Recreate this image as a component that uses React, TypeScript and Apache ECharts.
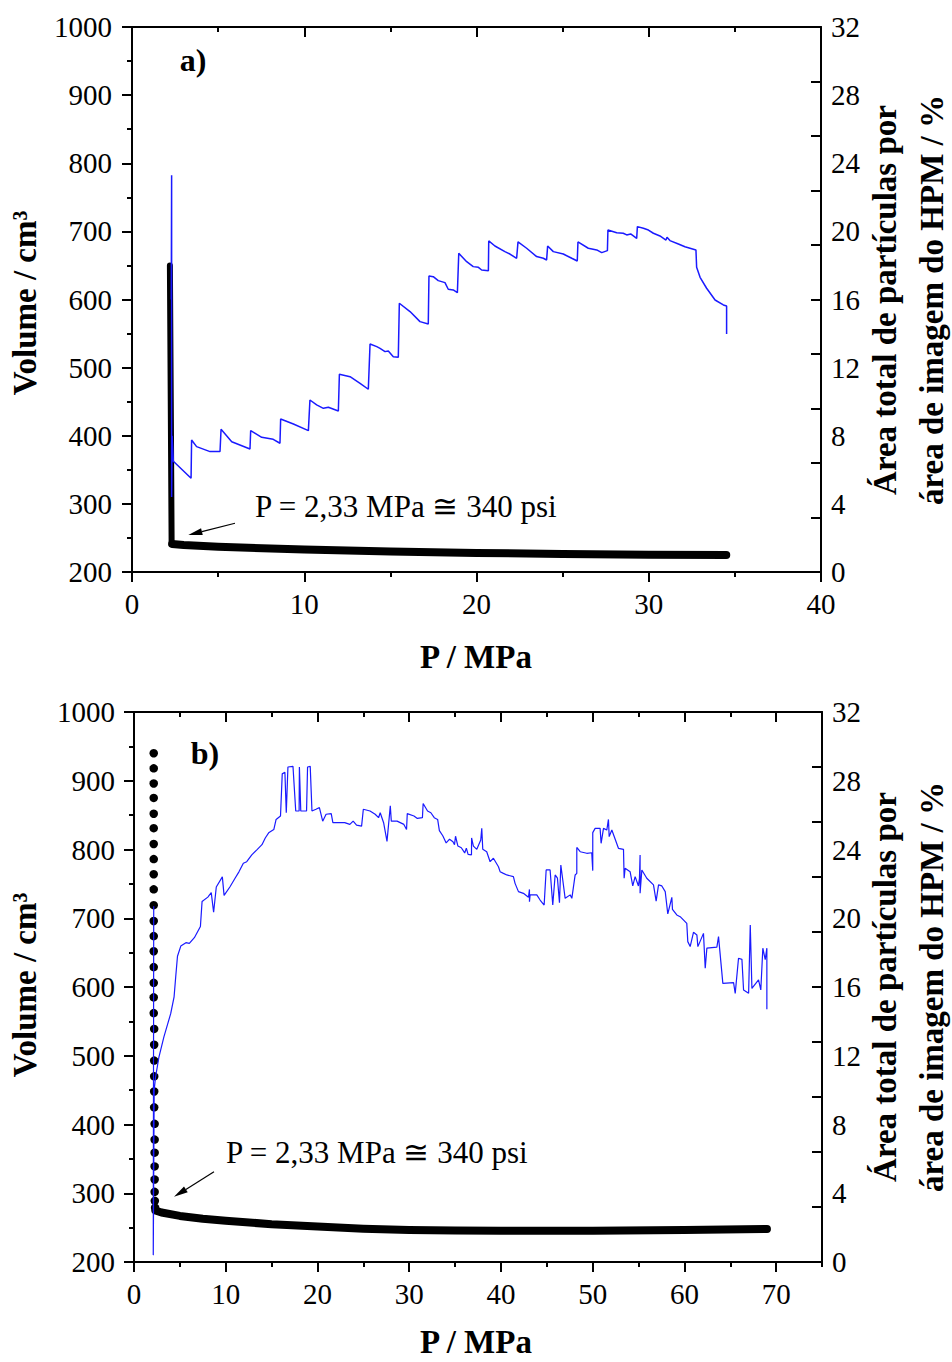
import React, { useEffect, useRef } from "react";
import * as echarts from "echarts";

const FONT = "'Liberation Serif', 'DejaVu Serif', serif";

// ---- axis tick values ----
const xMajorA = [0, 10, 20, 30, 40];
const xMinorA = [5, 15, 25, 35];
const xMajorB = [0, 10, 20, 30, 40, 50, 60, 70];
const xMinorB = [5, 15, 25, 35, 45, 55, 65, 75];
const rightTickVals = [0, 3.2, 6.4, 9.6, 12.8, 16, 19.2, 22.4, 25.6, 28.8, 32];

// ---- chart a) data: [P (MPa), Volume (cm3)] ----
const volA_vertical = [
  [2.2, 650], [2.25, 450], [2.3, 241],
];
const volA_horizontal = [
  [2.33, 241], [3, 239.5], [5, 237], [10, 233], [15, 230], [20, 228],
  [25, 226.5], [30, 225.5], [34.5, 225],
];
// [P (MPa), area (%)]
const areaA = [
  [2.28, 16.0], [2.3, 23.3], [2.3, 4.4], [2.33, 8.0], [2.40, 6.5], [3.43, 5.5],
  [3.46, 7.75], [3.75, 7.36], [4.53, 7.07], [5.11, 7.07], [5.17, 8.38], [5.79, 7.65],
  [6.85, 7.22], [6.89, 8.30], [7.53, 7.91], [8.20, 7.79], [8.59, 7.56], [8.63, 8.98],
  [9.37, 8.69], [10.24, 8.30], [10.33, 10.10], [10.72, 9.81], [11.11, 9.61], [11.40, 9.67],
  [11.98, 9.45], [12.04, 11.61], [12.66, 11.47], [13.24, 11.08], [13.72, 10.73], [13.82, 13.39],
  [14.21, 13.23], [14.40, 13.13], [14.69, 12.94], [14.88, 12.98], [15.17, 12.64], [15.46, 12.61],
  [15.52, 15.78], [16.14, 15.29], [16.72, 14.70], [17.20, 14.56], [17.24, 17.38], [17.49, 17.34],
  [17.78, 17.11], [18.17, 16.99], [18.36, 16.60], [18.65, 16.56], [18.89, 16.40], [18.97, 18.71],
  [19.43, 18.22], [19.81, 17.93], [20.11, 17.89], [20.30, 17.73], [20.69, 17.69], [20.71, 19.44],
  [21.07, 19.14], [21.65, 18.81], [21.94, 18.67], [22.33, 18.42], [22.41, 19.38], [22.91, 19.01],
  [23.49, 18.52], [23.88, 18.42], [24.07, 18.32], [24.13, 19.14], [24.46, 18.81], [25.04, 18.67],
  [25.53, 18.42], [25.85, 18.26], [25.89, 19.38], [26.49, 19.01], [26.98, 18.91], [27.27, 18.75],
  [27.60, 18.87], [27.63, 20.08], [28.14, 19.92], [28.52, 19.89], [28.72, 19.79], [28.95, 19.85],
  [29.30, 19.59], [29.34, 20.28], [29.69, 20.18], [29.98, 20.08], [30.27, 19.89], [30.65, 19.73],
  [31.00, 19.49], [31.06, 19.65], [31.23, 19.46], [31.72, 19.26], [32.10, 19.10], [32.74, 18.91],
  [32.78, 17.89], [32.98, 17.30], [33.36, 16.66], [33.85, 15.97], [34.33, 15.68], [34.52, 15.62],
  [34.52, 13.98],
];
const arrowA = [[5.98, 271.5], [3.27, 254.3]];

// ---- chart b) data ----
const volB_dots = [
  [2.15, 940], [2.15, 918], [2.15, 896], [2.15, 875], [2.15, 852], [2.15, 831], [2.15, 808],
  [2.15, 786], [2.15, 764], [2.15, 742], [2.15, 719], [2.15, 696], [2.15, 674], [2.15, 652],
  [2.15, 629], [2.15, 606], [2.15, 585], [2.15, 562], [2.2, 539], [2.2, 516], [2.2, 493],
  [2.2, 470], [2.2, 448], [2.2, 425], [2.25, 401], [2.25, 378], [2.25, 359], [2.25, 339],
  [2.25, 320], [2.25, 302], [2.27, 289], [2.3, 279],
];
const volB_horizontal = [
  [2.33, 275], [3, 272], [5, 267], [7.5, 263], [10, 260], [15, 255], [20, 251.5],
  [25, 248.5], [30, 246.5], [35, 245.8], [40, 245.5], [50, 245.5], [60, 246.5], [69, 248],
];
const areaB = [
  [2.15, 20.7], [2.1, 0.4], [2.2, 10.0], [2.34, 10.72], [2.71, 11.91], [3.26, 13.10],
  [4.00, 14.45], [4.37, 15.43], [4.55, 16.61], [4.74, 17.79], [5.10, 18.38], [5.66, 18.58],
  [6.03, 18.54], [6.58, 18.87], [7.24, 19.52], [7.42, 20.97], [8.05, 21.23], [8.42, 21.49],
  [8.68, 20.35], [8.97, 21.82], [9.63, 22.41], [9.82, 21.33], [10.45, 21.82], [11.00, 22.31],
  [11.44, 22.70], [11.92, 23.20], [12.29, 23.29], [12.84, 23.69], [13.39, 23.98], [13.95, 24.28],
  [14.31, 24.67], [14.68, 24.97], [15.24, 25.16], [15.49, 25.75], [15.97, 25.95], [16.16, 28.40],
  [16.45, 28.50], [16.60, 26.14], [16.78, 28.80], [17.33, 28.84], [17.63, 26.24], [18.00, 26.24],
  [18.03, 28.80], [18.18, 26.24], [18.81, 26.24], [18.92, 28.80], [19.21, 28.84], [19.40, 26.24],
  [19.84, 26.34], [20.21, 26.44], [20.57, 25.65], [20.94, 26.05], [21.50, 26.09], [21.68, 25.56],
  [22.42, 25.56], [22.97, 25.56], [23.53, 25.46], [23.89, 25.65], [24.26, 25.42], [24.81, 25.36],
  [25.00, 26.34], [25.73, 26.24], [26.29, 26.05], [26.66, 25.85], [26.84, 26.14], [27.21, 25.56],
  [27.58, 24.47], [27.94, 26.54], [28.05, 25.65], [28.68, 25.65], [29.42, 25.46], [29.71, 25.16],
  [29.79, 26.09], [30.52, 25.95], [30.89, 25.81], [31.44, 25.85], [31.52, 26.68], [32.00, 26.24],
  [32.36, 26.14], [32.73, 25.85], [33.10, 25.75], [33.29, 25.10], [33.66, 24.80], [34.03, 24.38],
  [34.40, 24.60], [34.77, 24.45], [34.94, 24.28], [35.05, 24.77], [35.31, 24.20], [35.68, 24.10],
  [36.05, 23.80], [36.23, 24.08], [36.42, 23.72], [36.79, 23.69], [36.80, 24.67], [37.00, 24.20],
  [37.37, 24.01], [37.80, 24.55], [37.91, 25.23], [38.02, 24.01], [38.45, 23.87], [38.82, 23.29],
  [39.18, 23.49], [39.73, 23.00], [39.91, 22.71], [40.27, 22.61], [40.64, 22.52], [41.36, 22.42],
  [41.54, 22.03], [41.91, 21.55], [42.45, 21.45], [43.00, 21.22], [43.11, 21.68], [43.11, 20.96],
  [43.18, 21.36], [43.91, 21.36], [44.27, 21.06], [44.71, 20.77], [44.93, 22.81], [45.36, 22.81],
  [45.65, 20.77], [45.91, 22.52], [46.16, 22.33], [46.38, 20.91], [46.53, 23.10], [47.00, 21.16],
  [47.55, 21.36], [47.73, 21.16], [48.09, 22.52], [48.27, 22.61], [48.27, 24.12], [48.64, 23.87],
  [49.36, 23.78], [49.90, 23.81], [50.01, 22.77], [50.01, 24.98], [50.27, 25.23], [50.81, 25.23],
  [50.92, 24.36], [51.18, 25.23], [51.54, 25.13], [51.72, 25.75], [51.80, 24.75], [52.09, 25.13],
  [52.81, 24.07], [53.36, 24.01], [53.43, 22.33], [53.54, 22.91], [54.08, 22.71], [54.37, 21.88],
  [54.63, 22.42], [54.99, 21.88], [55.10, 22.33], [55.17, 23.68], [55.17, 21.45], [55.36, 22.81],
  [55.90, 22.33], [56.63, 21.94], [56.92, 21.00], [57.18, 21.94], [57.54, 21.88], [57.91, 21.55],
  [58.19, 20.25], [58.63, 21.22], [58.70, 20.51], [59.17, 20.19], [59.54, 20.09], [60.26, 19.70],
  [60.37, 18.64], [60.63, 18.35], [60.99, 19.18], [61.36, 19.03], [61.47, 18.35], [62.08, 19.12],
  [62.27, 17.09], [62.45, 18.26], [63.54, 18.32], [63.72, 18.93], [64.19, 16.21], [65.36, 16.25],
  [65.54, 15.63], [65.90, 17.67], [66.27, 17.61], [66.45, 15.83], [67.00, 15.63], [67.18, 19.61],
  [67.36, 15.92], [68.08, 16.41], [68.33, 15.83], [68.55, 18.26], [68.81, 17.59], [68.99, 18.26],
  [68.99, 14.70],
];
const arrowB = [[8.72, 331.2], [4.36, 294.8]];

// ---- texts ----
const ANNOT = "P = 2,33 MPa \u2245 340 psi";
const LEFT_TITLE = "Volume / cm\u00B3";
const RIGHT_TITLE_1 = "\u00C1rea total de part\u00EDculas por";
const RIGHT_TITLE_2 = "\u00E1rea de imagem do HPM / %";
const X_TITLE = "P / MPa";

const BLUE = "#1a1aff";
const lineSt = { color: "#000", width: 2 };
const plain = (v: number) => String(v);

function xAxes(gi: number, max: number, majors: number[], minors: number[]) {
  const base = { type: "value", gridIndex: gi, min: 0, max, splitLine: { show: false } };
  return [
    {
      ...base, position: "bottom",
      axisLine: { show: true, onZero: false, lineStyle: lineSt },
      axisTick: { show: true, inside: false, length: 10, lineStyle: lineSt, customValues: majors },
      axisLabel: { show: true, customValues: majors, formatter: plain, color: "#000", fontSize: 29, fontFamily: FONT, margin: 17 },
    },
    {
      ...base, position: "bottom",
      axisLine: { show: false, onZero: false },
      axisTick: { show: true, inside: false, length: 5, lineStyle: lineSt, customValues: minors },
      axisLabel: { show: false },
    },
    {
      ...base, position: "top",
      axisLine: { show: true, onZero: false, lineStyle: lineSt },
      axisTick: { show: true, inside: true, length: 10, lineStyle: lineSt, customValues: majors },
      axisLabel: { show: false },
    },
    {
      ...base, position: "top",
      axisLine: { show: false, onZero: false },
      axisTick: { show: true, inside: true, length: 5, lineStyle: lineSt, customValues: minors },
      axisLabel: { show: false },
    },
  ];
}

function yAxes(gi: number, labelMargin: number) {
  return [
    {
      type: "value", gridIndex: gi, position: "left", min: 200, max: 1000, interval: 100,
      splitLine: { show: false },
      axisLine: { show: true, onZero: false, lineStyle: lineSt },
      axisTick: { show: true, inside: false, length: 10, lineStyle: lineSt },
      minorTick: { show: true, splitNumber: 2, length: 5, lineStyle: lineSt },
      axisLabel: { color: "#000", fontSize: 29, fontFamily: FONT, margin: labelMargin, formatter: plain },
    },
    {
      type: "value", gridIndex: gi, position: "right", min: 0, max: 32, interval: 4,
      splitLine: { show: false },
      axisLine: { show: true, onZero: false, lineStyle: lineSt },
      axisTick: { show: false },
      axisLabel: { color: "#000", fontSize: 29, fontFamily: FONT, margin: 10, formatter: plain },
    },
    {
      type: "value", gridIndex: gi, position: "right", min: 0, max: 32,
      splitLine: { show: false },
      axisLine: { show: false, onZero: false },
      axisTick: { show: true, inside: true, length: 10, lineStyle: lineSt, customValues: rightTickVals },
      axisLabel: { show: false },
    },
  ];
}

function txt(text: string, x: number, y: number, font: string, align = "center", rot = 0) {
  return {
    type: "text", x, y, rotation: rot, z: 100,
    style: { text, font, fill: "#000", textAlign: align, textVerticalAlign: "middle", align, verticalAlign: "middle" },
  };
}

const TITLE_FONT = `bold 33px ${FONT}`;
const ANNOT_FONT = `31px ${FONT}`;

function buildTexts() {
  const R = Math.PI / 2;
  return [
    txt("a)", 193, 60, `bold 32px ${FONT}`),
    txt("b)", 205, 753, `bold 32px ${FONT}`),
    txt(LEFT_TITLE, 25, 303, TITLE_FONT, "center", R),
    txt(LEFT_TITLE, 25, 985, TITLE_FONT, "center", R),
    txt(RIGHT_TITLE_1, 885, 300, TITLE_FONT, "center", R),
    txt(RIGHT_TITLE_2, 932, 300, TITLE_FONT, "center", R),
    txt(RIGHT_TITLE_1, 885, 987, TITLE_FONT, "center", R),
    txt(RIGHT_TITLE_2, 932, 987, TITLE_FONT, "center", R),
    txt(X_TITLE, 476, 657, TITLE_FONT),
    txt(X_TITLE, 476, 1342, TITLE_FONT),
    txt(ANNOT, 255, 506, ANNOT_FONT, "left"),
    txt(ANNOT, 226, 1152, ANNOT_FONT, "left"),
  ];
}

const option: any = {
  animation: false,
  backgroundColor: "#ffffff",
  grid: [
    { left: 132, top: 27, width: 689, height: 545 },
    { left: 134, top: 712, width: 688, height: 550 },
  ],
  xAxis: [...xAxes(0, 40, xMajorA, xMinorA), ...xAxes(1, 75, xMajorB, xMinorB)],
  yAxis: [...yAxes(0, 20), ...yAxes(1, 19)],
  series: [
    {
      type: "line", xAxisIndex: 0, yAxisIndex: 0, data: volA_vertical, symbol: "none", z: 2,
      lineStyle: { color: "#000", width: 6, cap: "round", join: "round" },
    },
    {
      type: "line", xAxisIndex: 0, yAxisIndex: 0, data: volA_horizontal, symbol: "none", z: 2,
      lineStyle: { color: "#000", width: 8, cap: "round", join: "round" },
    },
    {
      type: "line", xAxisIndex: 0, yAxisIndex: 1, data: areaA, symbol: "none", z: 3,
      lineStyle: { color: BLUE, width: 1.5 },
    },
    {
      type: "scatter", xAxisIndex: 4, yAxisIndex: 3, data: volB_dots, symbol: "circle", symbolSize: 8.5, z: 2,
      itemStyle: { color: "#000", opacity: 1 },
    },
    {
      type: "line", xAxisIndex: 4, yAxisIndex: 3, data: volB_horizontal, symbol: "none", z: 2,
      lineStyle: { color: "#000", width: 8, cap: "round", join: "round" },
    },
    {
      type: "line", xAxisIndex: 4, yAxisIndex: 4, data: areaB, symbol: "none", z: 3,
      lineStyle: { color: BLUE, width: 1.2 },
    },
  ],
  graphic: buildTexts(),
};

export default function App() {
  const ref = useRef<HTMLDivElement>(null);
  useEffect(() => {
    if (!ref.current) return;
    const chart = echarts.init(ref.current, null, { renderer: "svg" });
    chart.setOption(option);

    const arrow = (seriesIndex: number, pts: number[][]) => {
      const p0 = chart.convertToPixel({ seriesIndex }, pts[0]) as number[];
      const p1 = chart.convertToPixel({ seriesIndex }, pts[1]) as number[];
      const dx = p1[0] - p0[0];
      const dy = p1[1] - p0[1];
      const len = Math.sqrt(dx * dx + dy * dy) || 1;
      const ux = dx / len, uy = dy / len;
      const nx = -uy, ny = ux;
      const hl = 14, hw = 3.5;
      const bx = p1[0] - ux * hl, by = p1[1] - uy * hl;
      return [
        { type: "line", z: 100, shape: { x1: p0[0], y1: p0[1], x2: bx, y2: by }, style: { stroke: "#000", lineWidth: 1.2 } },
        {
          type: "polygon", z: 100,
          shape: { points: [[p1[0], p1[1]], [bx + nx * hw, by + ny * hw], [bx - nx * hw, by - ny * hw]] },
          style: { fill: "#000" },
        },
      ];
    };

    chart.setOption({ graphic: [...buildTexts(), ...arrow(1, arrowA), ...arrow(4, arrowB)] }, { replaceMerge: ["graphic"] });
    return () => chart.dispose();
  }, []);
  return (
    <div
      ref={ref}
      style={{ position: "absolute", left: 0, top: 0, width: 952, height: 1362, background: "#fff" }}
    />
  );
}
